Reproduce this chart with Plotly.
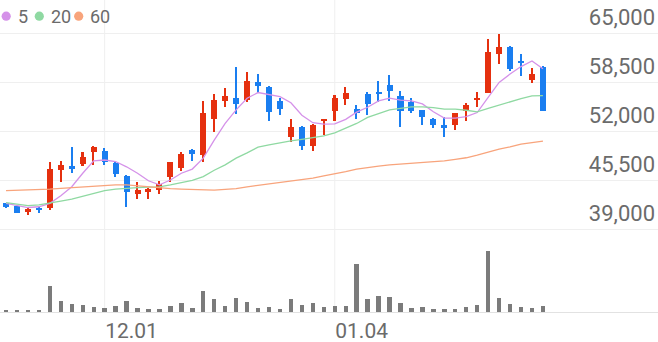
import plotly.graph_objects as go

# ---------------- data ----------------
dates = ["11.18", "11.19", "11.20", "11.23", "11.24", "11.25", "11.26", "11.27", "11.30",
         "12.01", "12.02", "12.03", "12.04", "12.07", "12.08", "12.09", "12.10", "12.11",
         "12.14", "12.15", "12.16", "12.17", "12.18", "12.21", "12.22", "12.23", "12.24",
         "12.28", "12.29", "12.30",
         "01.04", "01.05", "01.06", "01.07", "01.08", "01.11", "01.12", "01.13", "01.14",
         "01.15", "01.18", "01.19", "01.20", "01.21", "01.22", "01.25", "01.26", "01.27",
         "01.28", "01.29"]

opens = [42400, 42100, 41250, 41800, 41750, 46800, 47300, 47600, 49150, 49350,
         47800, 46050, 43700, 43850, 44150, 45850, 47150, 49500, 48800, 53600,
         56000, 56400, 56050, 58500, 57900, 56000, 51250, 52500, 50050, 53400,
         54700, 56200, 54900, 56850, 57200, 58050, 56650, 55850, 54750, 53650,
         52750, 52750, 54700, 56150, 57000, 62200, 63150, 61300, 58750, 60550]
closes = [41950, 41150, 41600, 41500, 46900, 47550, 47050, 48550, 49900, 47850,
          46300, 43850, 44200, 44350, 44950, 47850, 48950, 48950, 54350, 56150,
          56700, 55600, 58650, 57950, 54500, 54900, 52500, 50050, 52800, 53450,
          56350, 57100, 54350, 55600, 57000, 57250, 54600, 54650, 53900, 52800,
          52400, 54400, 55500, 56300, 62450, 63100, 60200, 61100, 59500, 54700]
highs = [42500, 42200, 41750, 41950, 47850, 48000, 49850, 49150, 50050, 49700,
         47950, 46150, 45200, 44400, 45350, 47950, 49150, 49600, 56000, 56900,
         57650, 60450, 59850, 59500, 57950, 56400, 53600, 52600, 52950, 53450,
         56800, 57800, 55500, 57150, 58650, 59450, 57300, 56350, 54800, 53700,
         53800, 54400, 55750, 57200, 64150, 64850, 63300, 62200, 60300, 60600]
lows = [41800, 41100, 40800, 41100, 41500, 45250, 46450, 47350, 47500, 47500,
        45850, 41900, 42950, 43000, 43700, 45250, 46750, 48050, 47950, 51850,
        55150, 54250, 55900, 57000, 53350, 54100, 50600, 49500, 49400, 51450,
        53350, 55450, 53550, 54100, 55900, 56000, 52550, 54450, 52800, 52450,
        51150, 52150, 53350, 55150, 57000, 60900, 59950, 59250, 58350, 54650]

ma5 = [42400, 42100, 41850, 41950, 42400, 43400, 44600, 46400, 48050, 48150,
       47950, 47250, 46400, 45400, 44850, 45500, 46400, 46950, 48400, 50800,
       53000, 54800, 56350, 57100, 56800, 56550, 55750, 54100, 53100, 52900,
       52950, 53550, 54500, 55150, 56000, 56350, 56100, 56000, 55600, 54550,
       53700, 53700, 53900, 54450, 56450, 58450, 59550, 60550, 61300, 60250]
ma20 = [42500, 42300, 42100, 42200, 42500, 42700, 42950, 43300, 43750, 44100,
        44300, 44450, 44500, 44550, 44600, 44850, 45150, 45450, 45950, 46800,
        47500, 48400, 49100, 49850, 50150, 50450, 50700, 50900, 51100, 51350,
        51750, 52350, 53000, 53800, 54350, 54800, 55000, 55200, 55200, 55100,
        54900, 54900, 54750, 54550, 55000, 55450, 55850, 56300, 56650, 56700]
ma60 = [44100, 44150, 44150, 44250, 44300, 44400, 44500, 44600, 44750, 44850,
        44850, 44850, 44700, 44550, 44450, 44350, 44300, 44250, 44150, 44150,
        44250, 44350, 44600, 44800, 44950, 45150, 45350, 45600, 45750, 46050,
        46300, 46600, 46950, 47200, 47350, 47500, 47600, 47700, 47800, 47900,
        48050, 48250, 48450, 48800, 49250, 49600, 49900, 50250, 50450, 50650]

volumes = [34000, 34000, 34000, 34000, 514000, 226000, 166000, 146000, 100000, 86000,
           126000, 226000, 80000, 54000, 60000, 126000, 186000, 80000, 414000, 266000,
           126000, 286000, 194000, 74000, 106000, 54000, 266000, 134000, 174000, 106000,
           126000, 126000, 966000, 266000, 320000, 294000, 180000, 86000, 94000, 60000,
           66000, 60000, 106000, 140000, 1214000, 280000, 166000, 106000, 86000, 120000]

price_ticks = [39000, 45500, 52000, 58500, 65000]
date_ticks = ["12.01", "01.04"]
ma_names = ["5", "20", "60"]

# ---------------- styling ----------------
W, H = 658, 342
MB = 30
PH = H - MB
UP, DOWN = "#e5300f", "#1a7ef0"
MA_COLORS = ["#d592e9", "#8fd9a2", "#f8a47c"]
TXT = "#6b6b6b"
GRID = "#efefef"
FONT = "Roboto"

xs = list(range(len(dates)))
colors = [UP if c >= o else DOWN for o, c in zip(opens, closes)]
body_base = [min(o, c) for o, c in zip(opens, closes)]
body_h = [max(abs(c - o), 140) for o, c in zip(opens, closes)]
wick_h = [h - l for h, l in zip(highs, lows)]

fig = go.Figure()
fig.add_trace(go.Bar(x=xs, y=wick_h, base=lows, width=0.14, marker=dict(color=colors, line=dict(width=0)),
                     yaxis="y", showlegend=False, hoverinfo="skip"))
fig.add_trace(go.Bar(x=xs, y=body_h, base=body_base, width=0.55, marker=dict(color=colors, line=dict(width=0)),
                     yaxis="y", showlegend=False, customdata=list(zip(opens, highs, lows, closes)),
                     hovertemplate="O %{customdata[0]}<br>H %{customdata[1]}<br>L %{customdata[2]}<br>C %{customdata[3]}<extra></extra>"))
for name, vals, col in zip(ma_names, [ma5, ma20, ma60], MA_COLORS):
    fig.add_trace(go.Scatter(x=xs, y=vals, mode="lines", line=dict(color=col, width=1.3),
                             name=name, yaxis="y", showlegend=False))
fig.add_trace(go.Bar(x=xs, y=volumes, width=0.4, marker=dict(color="#7b7b7b", line=dict(width=0)),
                     yaxis="y2", showlegend=False))

# pixel mapping of price axis: 65,000 at y=33px, 39,000 at y=229px
won_per_px = (65000 - 39000) / (229 - 33)
y_top = 65000 + 33 * won_per_px
y_bot = 65000 - (234 - 33) * won_per_px

shapes = []
for d in date_ticks:
    xi = dates.index(d)
    shapes.append(dict(type="line", xref="x", yref="paper", x0=xi, x1=xi, y0=0, y1=1,
                       line=dict(color=GRID, width=1), layer="below"))
# legend dots
leg_cx = [6.2, 39.3, 78.7]
leg_tx = [16.0, 48.5, 88.0]
annotations = []
for cx, tx, name, col in zip(leg_cx, leg_tx, ma_names, MA_COLORS):
    shapes.append(dict(type="circle", xref="paper", yref="paper",
                       x0=(cx - 4.6) / W, x1=(cx + 4.6) / W,
                       y0=(PH - 20.8) / PH, y1=(PH - 11.6) / PH,
                       fillcolor=col, line=dict(width=0)))
    annotations.append(dict(xref="paper", yref="paper", x=tx / W, y=(PH - 16.5) / PH,
                            xanchor="left", yanchor="middle", text=name, showarrow=False,
                            font=dict(family=FONT, size=18, color=TXT)))

fig.update_layout(
    width=W, height=H,
    margin=dict(l=0, r=0, t=0, b=MB),
    paper_bgcolor="white", plot_bgcolor="white",
    barmode="overlay", bargap=0,
    showlegend=False,
    xaxis=dict(range=[-0.55, 59.5], anchor="y2", showgrid=False, zeroline=False,
               tickmode="array", tickvals=[dates.index(d) for d in date_ticks], ticktext=date_ticks,
               ticks="", ticklabelposition="outside right",
               tickfont=dict(family=FONT, size=21, color=TXT),
               showline=True, linecolor="#e2e2e2", linewidth=1, fixedrange=True),
    yaxis=dict(domain=[0.25, 1.0], range=[y_bot, y_top], side="right",
               tickmode="array", tickvals=price_ticks, ticktext=[f"{v:,}" for v in price_ticks],
               ticklabelposition="inside top", ticks="",
               tickfont=dict(family=FONT, size=22, color=TXT),
               showgrid=True, gridcolor=GRID, gridwidth=1, zeroline=False, fixedrange=True),
    yaxis2=dict(domain=[0.0, 0.25], range=[0, 78 * 20000], showgrid=False, zeroline=False,
                showticklabels=False, fixedrange=True),
    shapes=shapes,
    annotations=annotations,
)

fig.write_html("out.html")
